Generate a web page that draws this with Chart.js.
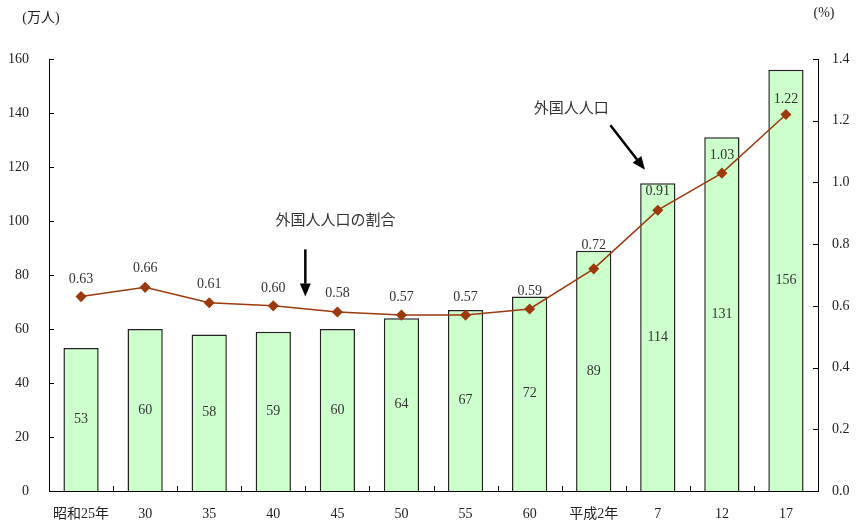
<!DOCTYPE html>
<html>
<head>
<meta charset="utf-8">
<script src="https://cdn.jsdelivr.net/npm/chart.js@4"></script>
<style>
  html, body { margin: 0; padding: 0; background: #fff; }
  #wrap { width: 856px; height: 526px; }
</style>
</head>
<body>
<div id="wrap"><canvas id="chart"></canvas></div>
<script>
const years = ["昭和25年", "30", "35", "40", "45", "50", "55", "60", "平成2年", "7", "12", "17"];
const foreigners = [53, 60, 58, 59, 60, 64, 67, 72, 89, 114, 131, 156];   // 万人
const share = [0.63, 0.66, 0.61, 0.60, 0.58, 0.57, 0.57, 0.59, 0.72, 0.91, 1.03, 1.22]; // %

const FONT = "'Liberation Serif', 'Noto Sans CJK JP', serif";
const INK = "#222";

// how far each % label sits above its point (the 平成2年 one was nudged up in the original)
const lift = [17, 19, 18, 18, 19, 18, 18, 18, 24, 19, 18, 15];

// annotation text + arrows, in data coords (x = category index, y = left axis)
const notes = [
  { text: "外国人人口の割合", tx: 3.97, ty: 100.5, from: [3.5, 89.5], to: [3.5, 72] },
  { text: "外国人人口", tx: 7.65, ty: 142, from: [8.26, 135.5], to: [8.8, 119] }
];

const decor = {
  id: "decor",
  afterDatasetsDraw(chart) {
    const ctx = chart.ctx;
    const x = chart.scales.x, y = chart.scales.y, y1 = chart.scales.y1;
    const area = chart.chartArea;
    const x0 = x.getPixelForValue(0);
    const dx = x.getPixelForValue(1) - x0;
    const px = (i) => x0 + i * dx;

    ctx.save();
    // inward ticks
    ctx.strokeStyle = "#000";
    ctx.lineWidth = 1;
    ctx.beginPath();
    y.ticks.forEach(t => {
      const p = Math.round(y.getPixelForValue(t.value)) + 0.5;
      ctx.moveTo(area.left, p); ctx.lineTo(area.left + 5, p);
    });
    y1.ticks.forEach(t => {
      const p = Math.round(y1.getPixelForValue(t.value)) + 0.5;
      ctx.moveTo(area.right - 5, p); ctx.lineTo(area.right, p);
    });
    for (let i = 0; i < years.length - 1; i++) {
      const p = Math.round(px(i + 0.5)) + 0.5;
      ctx.moveTo(p, area.bottom); ctx.lineTo(p, area.bottom - 5);
    }
    ctx.stroke();

    // bar value labels (centre of bar)
    ctx.fillStyle = "#333";
    ctx.font = "14px " + FONT;
    ctx.textAlign = "center";
    ctx.textBaseline = "middle";
    const barMeta = chart.getDatasetMeta(1);
    barMeta.data.forEach((el, i) => {
      ctx.fillText(String(foreigners[i]), el.x, (el.y + el.base) / 2);
    });
    // line value labels (above points)
    const lineMeta = chart.getDatasetMeta(0);
    lineMeta.data.forEach((el, i) => {
      ctx.fillText(share[i].toFixed(2), el.x, el.y - lift[i]);
    });

    // unit captions
    ctx.font = "14px " + FONT;
    ctx.fillStyle = INK;
    ctx.fillText("(万人)", 41, 18);
    ctx.fillText("(%)", 824, 13);

    // annotations
    notes.forEach(n => {
      ctx.font = "15px 'Noto Sans CJK JP', sans-serif";
      ctx.fillStyle = "#333";
      ctx.fillText(n.text, px(n.tx), y.getPixelForValue(n.ty));
      const fx = px(n.from[0]), fy = y.getPixelForValue(n.from[1]);
      const tx = px(n.to[0]), ty = y.getPixelForValue(n.to[1]);
      const ang = Math.atan2(ty - fy, tx - fx);
      const head = 13, half = 5.5;
      const bx = tx - head * Math.cos(ang), by = ty - head * Math.sin(ang);
      ctx.strokeStyle = "#000";
      ctx.lineWidth = 2.5;
      ctx.beginPath();
      ctx.moveTo(fx, fy); ctx.lineTo(bx, by);
      ctx.stroke();
      ctx.fillStyle = "#000";
      ctx.beginPath();
      ctx.moveTo(tx, ty);
      ctx.lineTo(bx + half * Math.sin(ang), by - half * Math.cos(ang));
      ctx.lineTo(bx - half * Math.sin(ang), by + half * Math.cos(ang));
      ctx.closePath();
      ctx.fill();
    });
    ctx.restore();
  }
};

new Chart(document.getElementById("chart"), {
  type: "bar",
  data: {
    labels: years,
    datasets: [
      {
        type: "line",
        label: "外国人人口の割合",
        data: share,
        yAxisID: "y1",
        borderColor: "#9c3a0e",
        backgroundColor: "#9c3a0e",
        borderWidth: 1.5,
        pointStyle: "rectRot",
        pointRadius: 4.5,
        pointHoverRadius: 4.5,
        tension: 0,
        order: 0
      },
      {
        type: "bar",
        label: "外国人人口",
        data: foreigners,
        yAxisID: "y",
        backgroundColor: "#ccffcc",
        borderColor: "#222",
        borderWidth: 1.5,
        categoryPercentage: 1,
        barPercentage: 0.55,
        order: 1
      }
    ]
  },
  options: {
    responsive: true,
    maintainAspectRatio: false,
    animation: false,
    events: [],
    layout: { padding: { top: 59, left: 0, right: 0, bottom: 0 } },
    plugins: { legend: { display: false }, tooltip: { enabled: false } },
    scales: {
      x: {
        grid: { display: false },
        border: { display: true, color: "#000", width: 1 },
        ticks: { color: INK, font: { family: FONT, size: 14 }, padding: 7, maxRotation: 0, autoSkip: false },
        afterFit: (s) => { s.height = 35; }
      },
      y: {
        position: "left",
        min: 0, max: 160,
        grid: { display: false },
        border: { display: true, color: "#000", width: 1 },
        ticks: { stepSize: 20, color: INK, font: { family: FONT, size: 14 }, padding: 12 },
        afterFit: (s) => { s.width = 49; }
      },
      y1: {
        position: "right",
        min: 0, max: 1.4,
        grid: { display: false },
        border: { display: true, color: "#000", width: 1 },
        ticks: {
          stepSize: 0.2, color: INK, font: { family: FONT, size: 14 }, padding: 6,
          callback: (v) => Number(v).toFixed(1)
        },
        afterFit: (s) => { s.width = 38; }
      }
    }
  },
  plugins: [decor]
});
</script>
</body>
</html>
